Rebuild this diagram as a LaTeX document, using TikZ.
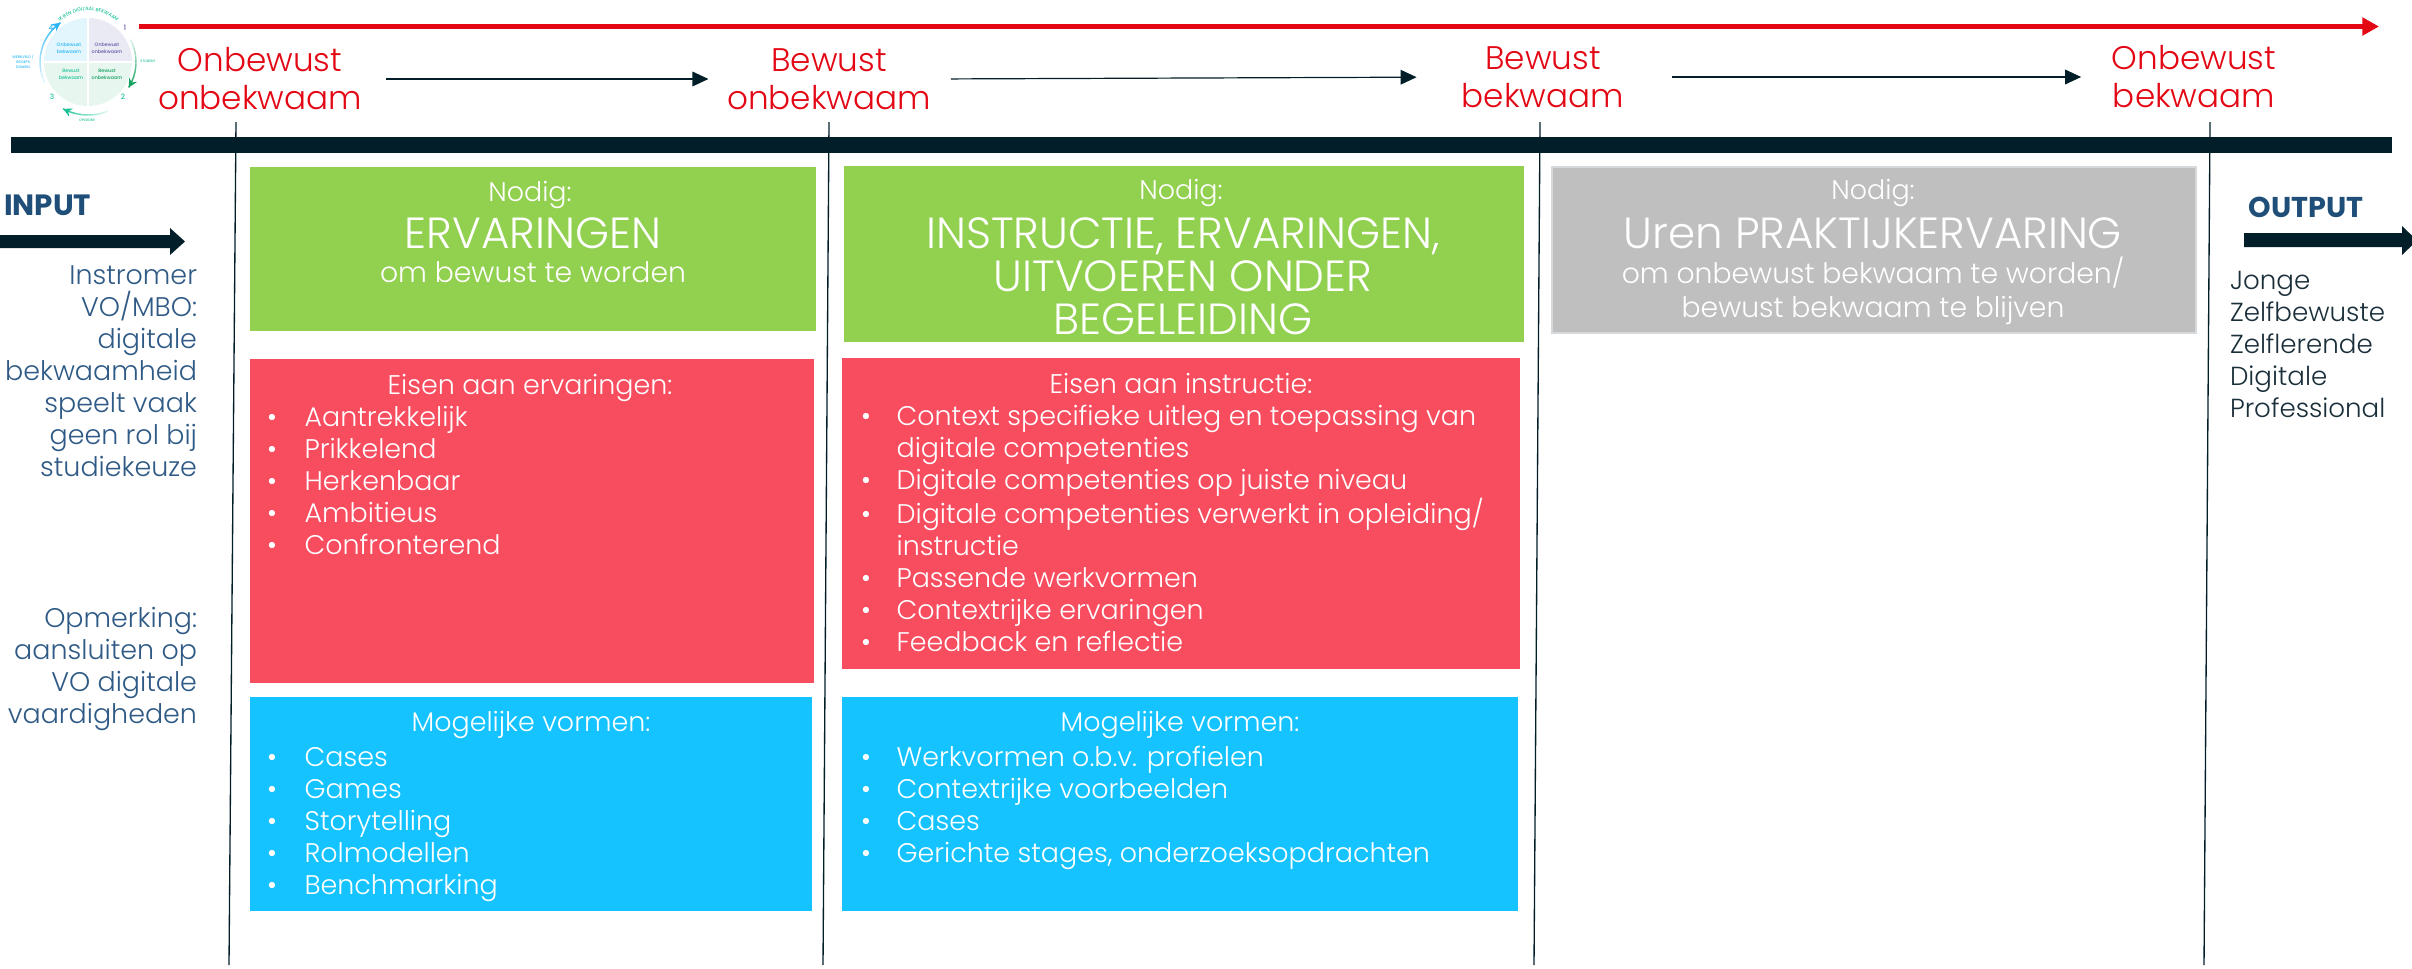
\documentclass[tikz,border=0pt]{standalone}
\usepackage{fontspec}
\setmainfont{Poppins}[UprightFont=* Light,BoldFont=* Bold]
\newfontfamily\iconfont{Poppins Medium}
\usetikzlibrary{arrows.meta,decorations.text}
\definecolor{cRed}{HTML}{E30613}
\definecolor{cDark}{HTML}{021F29}
\definecolor{cGreen}{HTML}{92D050}
\definecolor{cPink}{HTML}{F84C5F}
\definecolor{cSky}{HTML}{14C3FF}
\definecolor{cGray}{HTML}{BFBFBF}
\definecolor{cGrayEdge}{HTML}{D5D9DC}
\definecolor{cNavy}{HTML}{1F4E79}
\definecolor{cBlue}{HTML}{2F5A85}
\definecolor{cOut}{HTML}{1A2F3A}
\definecolor{icoSky}{HTML}{29B6F6}
\definecolor{icoPurple}{HTML}{5C5AA8}
\definecolor{icoGreen}{HTML}{12A15F}
\definecolor{icoTeal}{HTML}{1CC29A}
\newcommand\fsz[2]{\fontsize{#1}{#2}\selectfont}
\newcommand\bulA{\makebox[28.2pt][l]{•}}
\newcommand\bulB{\makebox[26.7pt][l]{•}}
\newcommand\noB{\hspace*{26.7pt}}
\tikzset{
  txt/.style={inner sep=0pt,outer sep=0pt},
  box/.style={txt,anchor=north west},
  bar/.style={fill=cDark,draw=none},
  head/.style={txt,text=cRed,align=center,font=\fsz{24.5}{28.5}},
  flow/.style={draw=cDark,line width=0.9pt,-{Triangle[length=12pt,width=11pt]}},
  sep/.style={draw=cDark,line width=1pt},
  nodig/.style={txt,text=white,font=\fsz{20.2}{24},anchor=mid},
  big/.style={txt,text=white,font=\fsz{32.7}{32.25},align=center},
  sub/.style={txt,text=white,font=\fsz{21.2}{25.5},align=center},
  listing/.style={txt,text=white,font=\fsz{20.2}{24},align=left,anchor=north west},
  inlist/.style={txt,text=cBlue,font=\fsz{20.2}{24},align=right,anchor=north east},
  outlist/.style={txt,text=cOut,font=\fsz{19.6}{24},align=left,anchor=north west},
  ico/.style={txt,font=\iconfont\fsz{3.6}{5.4},align=center},
}
\newcommand\rbox[6]{\node[box,fill=#2,minimum width={(#5-#3)*0.75pt},minimum height={(#6-#4)*0.75pt}] (#1) at (#3,#4) {};}
\newcommand\fadearc[6]{% colour, radius, from, to, cx, cy
  \foreach \i in {1,...,12}{
    \pgfmathsetmacro\aa{#3+(#4-#3)*(\i-1)/12}
    \pgfmathsetmacro\ab{#3+(#4-#3)*\i/12}
    \pgfmathsetmacro\pc{int(8+92*\i/12)}
    \draw[draw=#1!\pc!white,line width=1.1pt] ({#5+#2*cos(\aa)},{#6-#2*sin(\aa)}) -- ({#5+#2*cos(\ab)},{#6-#2*sin(\ab)});
  }
  \pgfmathsetmacro\aa{#4-4*(#4-#3)/abs(#4-#3)}
  \draw[draw=#1,line width=1.1pt,-{Stealth[length=6.5pt,width=6.5pt]}] ({#5+#2*cos(\aa)},{#6-#2*sin(\aa)}) -- ({#5+#2*cos(#4)},{#6-#2*sin(#4)});
}
\begin{document}
\begin{tikzpicture}[x=0.75pt,y=-0.75pt]
\useasboundingbox (0,0) rectangle (2412,968);
% --- icon
\begin{scope}
  \clip (88,62) circle (44);
  \fill[icoSky!13!white] (44,18) rectangle (87,61);
  \fill[icoPurple!13!white] (89,18) rectangle (132,61);
  \fill[icoGreen!10!white] (89,63) rectangle (132,106);
  \fill[icoGreen!10!white] (44,63) rectangle (87,106);
\end{scope}
\node[ico,text=icoSky] (q4) at (69,48) {Onbewust\\bekwaam};
\node[ico,text=icoPurple] (q1) at (107,48) {Onbewust\\onbekwaam};
\node[ico,text=icoGreen] (q2) at (107,74) {Bewust\\onbekwaam};
\node[ico,text=icoTeal] (q3) at (71,74) {Bewust\\bekwaam};
\node[txt,font=\iconfont\fsz{5.5}{6},text=icoPurple] (n1) at (125,28) {1};
\node[txt,font=\iconfont\fsz{5.5}{6},text=icoTeal] (n2) at (123,97) {2};
\node[txt,font=\iconfont\fsz{5.5}{6},text=icoTeal] (n3) at (52,97) {3};
\node[txt,font=\iconfont\fsz{5.5}{6},text=icoSky] (n4) at (51,28) {4};
\node[ico,text=icoTeal,font=\iconfont\fsz{2.6}{3.4}] (s1) at (148,61) {STUDENT};
\node[ico,text=icoTeal,font=\iconfont\fsz{2.6}{3.4}] (s2) at (87,120) {OPLEIDER};
\node[ico,text=icoSky,font=\iconfont\fsz{2.7}{3.6}] (s3) at (23,62) {WERKVELD /\\GROEPS\\DOMEIN};
\fadearc{icoGreen}{48}{28}{-32}{88}{62}
\fadearc{icoTeal}{53}{-68}{-118}{88}{62}
\fadearc{icoSky}{48}{-155}{-235}{88}{62}
\path[decorate,decoration={text along path,text align=center,text={|\iconfont\fsz{3.6}{5}\color{icoTeal}|IK BEN DIGITAAL BEKWAAM}}]
  (57,25) .. controls (72,6) and (104,6) .. (120,25);
% --- top red arrow
\coordinate (ra) at (139,26.5);
\coordinate (rb) at (2379,26.5);
\draw[draw=cRed,line width=3.9pt,-{Triangle[length=12.5pt,width=13pt]}] (ra) -- (rb);
% --- stage heads
\node[head] (h1) at (260,79) {Onbewust\\onbekwaam};
\node[head] (h2) at (829,79) {Bewust\\onbekwaam};
\node[head] (h3) at (1543,77) {Bewust\\bekwaam};
\node[head] (h4) at (2194,77) {Onbewust\\bekwaam};
\draw[flow,shorten <=18pt,shorten >=14pt] (h1.east) -- (h2.west);
\draw[flow,shorten <=15pt,shorten >=34pt] (h2.east) -- (h3.west);
\draw[flow,shorten <=36pt,shorten >=23pt] (h3.east) -- (h4.west);
% --- bar and separators
\coordinate (v1a) at (236,122); \coordinate (v1b) at (229,965);
\coordinate (v2a) at (829,122); \coordinate (v2b) at (823,965);
\coordinate (v3a) at (1540,122); \coordinate (v3b) at (1534,965);
\coordinate (v4a) at (2210,122); \coordinate (v4b) at (2204,965);
\draw[sep] (v1a) -- (v1b);
\draw[sep] (v2a) -- (v2b);
\draw[sep] (v3a) -- (v3b);
\draw[sep] (v4a) -- (v4b);
\node[box,bar,minimum width={2381*0.75pt},minimum height={16*0.75pt}] (mainbar) at (11,137) {};
% --- input / output
\node[txt,anchor=mid west,text=cNavy,font=\bfseries\fsz{22}{24}] (inp) at (4,212) {INPUT};
\node[txt,anchor=mid,text=cNavy,font=\bfseries\fsz{21.5}{24}] (outp) at (2306,214) {OUTPUT};
\fill[cDark] (0,235) -- (170,235) -- (170,228) -- (185,241.5) -- (170,255) -- (170,248) -- (0,248) -- cycle;
\fill[cDark] (2244,233) -- (2402,233) -- (2402,226) -- (2417,240.5) -- (2402,255) -- (2402,247) -- (2244,247) -- cycle;
\node[inlist] (intext) at (197,266) {Instromer\\VO/MBO:\\digitale\\bekwaamheid\\speelt vaak\\geen rol bij\\studiekeuze};
\node[inlist] (remark) at (197,607) {Opmerking:\\aansluiten op\\VO digitale\\vaardigheden};
\node[outlist] (outtext) at (2230,271) {Jonge\\Zelfbewuste\\Zelflerende\\Digitale\\Professional};
% --- column 1
\rbox{g1}{cGreen}{250}{167}{816}{331}
\node[nodig] (g1a) at (530,198) {Nodig:};
\node[big,anchor=mid] (g1b) at (533,244.5) {ERVARINGEN};
\node[sub,anchor=mid] (g1c) at (533,279) {om bewust te worden};
\rbox{r1}{cPink}{250}{359}{814}{683}
\node[nodig] (r1a) at (530,391) {Eisen aan ervaringen:};
\node[listing] (r1b) at (267,406) {\bulA Aantrekkelijk\\\bulA Prikkelend\\\bulA Herkenbaar\\\bulA Ambitieus\\\bulA Confronterend};
\rbox{b1}{cSky}{250}{697}{812}{911}
\node[nodig] (b1a) at (531,728) {Mogelijke vormen:};
\node[listing] (b1b) at (267,747) {\bulA Cases\\\bulA Games\\\bulA Storytelling\\\bulA Rolmodellen\\\bulA Benchmarking};
% --- column 2
\rbox{g2}{cGreen}{844}{166}{1524}{342}
\node[nodig] (g2a) at (1181,196) {Nodig:};
\node[big,anchor=north] (g2b) at (1183,218) {INSTRUCTIE, ERVARINGEN,\\UITVOEREN ONDER\\BEGELEIDING};
\rbox{r2}{cPink}{842}{358}{1520}{669}
\node[nodig] (r2a) at (1181,390) {Eisen aan instructie:};
\node[listing] (r2b) at (861,405.5) {\bulB Context specifieke uitleg en toepassing van\\\noB digitale competenties\\\bulB Digitale competenties op juiste niveau\\\bulB Digitale competenties verwerkt in opleiding/\\\noB instructie\\\bulB Passende werkvormen\\\bulB Contextrijke ervaringen\\\bulB Feedback en reflectie};
\rbox{b2}{cSky}{842}{697}{1518}{911}
\node[nodig] (b2a) at (1180,728) {Mogelijke vormen:};
\node[listing] (b2b) at (861,746) {\bulB Werkvormen o.b.v. profielen\\\bulB Contextrijke voorbeelden\\\bulB Cases\\\bulB Gerichte stages, onderzoeksopdrachten};
% --- column 3
\node[box,fill=cGray,draw=cGrayEdge,line width=1.5pt,minimum width={(2196-1552)*0.75pt},minimum height={(333-167)*0.75pt}] (g3) at (1552,167) {};
\node[nodig] (g3a) at (1873,196) {Nodig:};
\node[big,anchor=mid] (g3b) at (1873,244.5) {Uren PRAKTIJKERVARING};
\node[sub,anchor=north] (g3c) at (1873,257) {om onbewust bekwaam te worden/\\bewust bekwaam te blijven};
\end{tikzpicture}
\end{document}
